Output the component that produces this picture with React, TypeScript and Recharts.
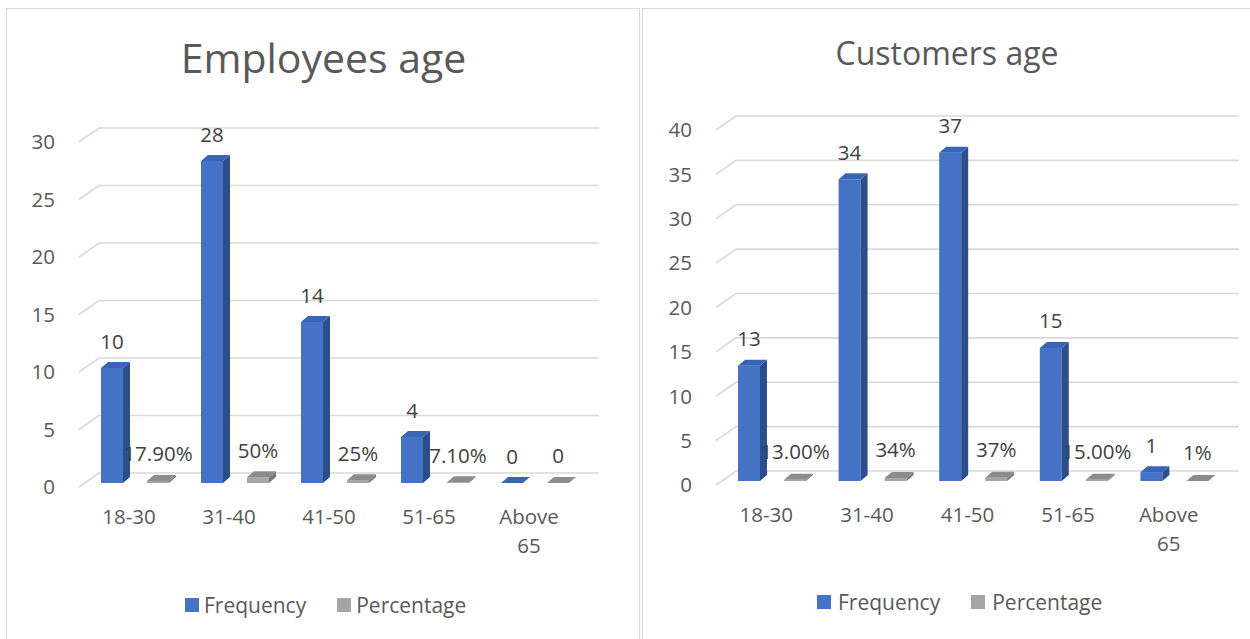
import React from 'react';
import { BarChart, Bar, XAxis, YAxis, CartesianGrid, LabelList, Legend } from 'recharts';

// ---------- data ----------
const categories = ['18-30', '31-40', '41-50', '51-65', 'Above 65'];

const employeeFrequency = [10, 28, 14, 4, 0];
const employeePercentage = [0.179, 0.5, 0.25, 0.071, 0];
const employeePercentageLabels = ['17.90%', '50%', '25%', '7.10%', '0'];
const employeeTicks = [0, 5, 10, 15, 20, 25, 30];

const customerFrequency = [13, 34, 37, 15, 1];
const customerPercentage = [0.13, 0.34, 0.37, 0.15, 0.01];
const customerPercentageLabels = ['13.00%', '34%', '37%', '15.00%', '1%'];
const customerTicks = [0, 5, 10, 15, 20, 25, 30, 35, 40];

const seriesNames = ['Frequency', 'Percentage'];

// ---------- styles ----------
const FONT = "'Open Sans', 'Noto Sans', sans-serif";
const FS = 20.5;
const AXIS_TEXT = '#595959';
const LABEL_TEXT = '#404040';
const GRID = '#D9D9D9';
const BLUE = { front: '#4472C4', top: '#3A65B5', side: '#2C4E8A' };
const GRAY = { front: '#A5A5A5', top: '#8C8C8C', side: '#7A7A7A' };
const DEPTH_X = 7;
const DEPTH_Y = 6;
const SHIFT_X = 6;
const SHIFT_Y = -4;
const GRID_DX = 20;
const GRID_DY = 14;

const buildData = (freq: number[], pct: number[], pctLabels: string[]) =>
  categories.map((c, i) => ({
    category: c,
    frequency: freq[i],
    percentage: pct[i],
    freqLabel: String(freq[i]),
    pctLabel: pctLabels[i],
  }));

const makeShape = (colors: { front: string; top: string; side: string }) => (p: any) => {
  const x = Number(p.x) + SHIFT_X;
  const y = Number(p.y) + SHIFT_Y;
  const w = Number(p.width);
  const h = Math.max(0, Number(p.height));
  const side = `${x + w},${y + h} ${x + w},${y} ${x + w + DEPTH_X},${y - DEPTH_Y} ${x + w + DEPTH_X},${y + h - DEPTH_Y}`;
  const top = `${x},${y} ${x + DEPTH_X},${y - DEPTH_Y} ${x + w + DEPTH_X},${y - DEPTH_Y} ${x + w},${y}`;
  return (
    <g>
      {h > 0 && <rect x={x} y={y} width={w} height={h} fill={colors.front} />}
      {h > 0 && <polygon points={side} fill={colors.side} />}
      <polygon points={top} fill={colors.top} />
    </g>
  );
};

const makeLabel = (lift: number) => (p: any) => {
  const x = Number(p.x) + Number(p.width) / 2 + SHIFT_X;
  const y = Number(p.y) + SHIFT_Y - lift;
  return (
    <text x={x} y={y} dy="0.36em" textAnchor="middle" fill={LABEL_TEXT} fontSize={FS} fontFamily={FONT}>
      {p.value}
    </text>
  );
};

const gridLine = (p: any) => {
  const y = Number(p.y1);
  const x1 = Number(p.x1);
  const x2 = Number(p.x2);
  return (
    <polyline
      key={`grid-${y}`}
      points={`${x1},${y} ${x1 + GRID_DX},${y - GRID_DY} ${x2 + GRID_DX},${y - GRID_DY}`}
      fill="none"
      stroke={GRID}
      strokeWidth={1.6}
    />
  );
};

const XTick = (p: any) => {
  const lines = String(p.payload.value).split(' ');
  return (
    <text x={p.x} y={p.y} textAnchor="middle" fill={AXIS_TEXT} fontSize={FS} fontFamily={FONT}>
      {lines.map((l, i) => (
        <tspan key={i} x={p.x} y={Number(p.y) + 30 + i * 29} dy="0.36em">
          {l}
        </tspan>
      ))}
    </text>
  );
};

const makeLegend = (gap: number) => () => (
  <div
    style={{
      display: 'flex',
      alignItems: 'center',
      fontFamily: FONT,
      fontSize: 21,
      lineHeight: '24px',
      color: AXIS_TEXT,
      whiteSpace: 'nowrap',
    }}
  >
    <span style={{ display: 'inline-block', width: 14, height: 14, background: BLUE.front, marginRight: gap }} />
    <span>{seriesNames[0]}</span>
    <span
      style={{ display: 'inline-block', width: 14, height: 14, background: GRAY.front, marginLeft: 31, marginRight: gap }}
    />
    <span>{seriesNames[1]}</span>
  </div>
);

type PanelProps = {
  width: number;
  height: number;
  margin: { top: number; right: number; bottom: number; left: number };
  data: any[];
  ticks: number[];
  title: string;
  titleX: number;
  titleY: number;
  titleSize: number;
  freqLift: number;
  pctLift: number;
  legendLeft: number;
  legendTop: number;
  legendGap: number;
};

const Panel = (props: PanelProps) => (
  <BarChart
    width={props.width}
    height={props.height}
    data={props.data}
    margin={props.margin}
    barSize={22}
    barGap={24}
  >
    <text
      x={props.titleX}
      y={props.titleY}
      textAnchor="middle"
      fill={AXIS_TEXT}
      fontSize={props.titleSize}
      fontFamily={FONT}
    >
      {props.title}
    </text>
    <CartesianGrid vertical={false} horizontal={gridLine} />
    <XAxis
      dataKey="category"
      axisLine={false}
      tickLine={false}
      tickSize={0}
      tickMargin={0}
      height={60}
      interval={0}
      tick={<XTick />}
    />
    <YAxis
      width={60}
      domain={[0, props.ticks[props.ticks.length - 1]]}
      ticks={props.ticks}
      axisLine={false}
      tickLine={false}
      tickSize={0}
      tickMargin={24}
      interval={0}
      tick={{ fill: AXIS_TEXT, fontSize: FS, fontFamily: FONT }}
    />
    <Legend
      layout="horizontal"
      verticalAlign="middle"
      align="center"
      wrapperStyle={{ top: props.legendTop, left: props.legendLeft, width: 420 }}
      content={makeLegend(props.legendGap)}
    />
    <Bar dataKey="frequency" name={seriesNames[0]} fill={BLUE.front} shape={makeShape(BLUE)} isAnimationActive={false}>
      <LabelList dataKey="freqLabel" content={makeLabel(props.freqLift)} />
    </Bar>
    <Bar dataKey="percentage" name={seriesNames[1]} fill={GRAY.front} shape={makeShape(GRAY)} isAnimationActive={false}>
      <LabelList dataKey="pctLabel" content={makeLabel(props.pctLift)} />
    </Bar>
  </BarChart>
);

export default function App() {
  const employeeData = buildData(employeeFrequency, employeePercentage, employeePercentageLabels);
  const customerData = buildData(customerFrequency, customerPercentage, customerPercentageLabels);
  return (
    <div
      style={{
        position: 'absolute',
        left: 0,
        top: 0,
        width: 1250,
        height: 639,
        background: '#FFFFFF',
        overflow: 'hidden',
      }}
    >
      <div
        style={{
          position: 'absolute',
          left: 6,
          top: 8,
          width: 634,
          height: 660,
          border: `1.5px solid ${GRID}`,
          boxSizing: 'border-box',
        }}
      />
      <div
        style={{
          position: 'absolute',
          left: 642,
          top: 8,
          width: 660,
          height: 660,
          border: `1.5px solid ${GRID}`,
          boxSizing: 'border-box',
        }}
      />
      <div style={{ position: 'absolute', left: 0, top: 0 }}>
        <Panel
          width={640}
          height={639}
          margin={{ top: 142, right: 61, bottom: 92, left: 19 }}
          data={employeeData}
          ticks={employeeTicks}
          title="Employees age"
          titleX={323.5}
          titleY={73}
          titleSize={41}
          freqLift={26}
          pctLift={27}
          legendLeft={185}
          legendTop={593}
          legendGap={5}
        />
      </div>
      <div style={{ position: 'absolute', left: 640, top: 0 }}>
        <Panel
          width={610}
          height={639}
          margin={{ top: 130, right: 31, bottom: 94, left: 16 }}
          data={customerData}
          ticks={customerTicks}
          title="Customers age"
          titleX={307}
          titleY={65}
          titleSize={32}
          freqLift={27}
          pctLift={28}
          legendLeft={177}
          legendTop={590}
          legendGap={7}
        />
      </div>
    </div>
  );
}
